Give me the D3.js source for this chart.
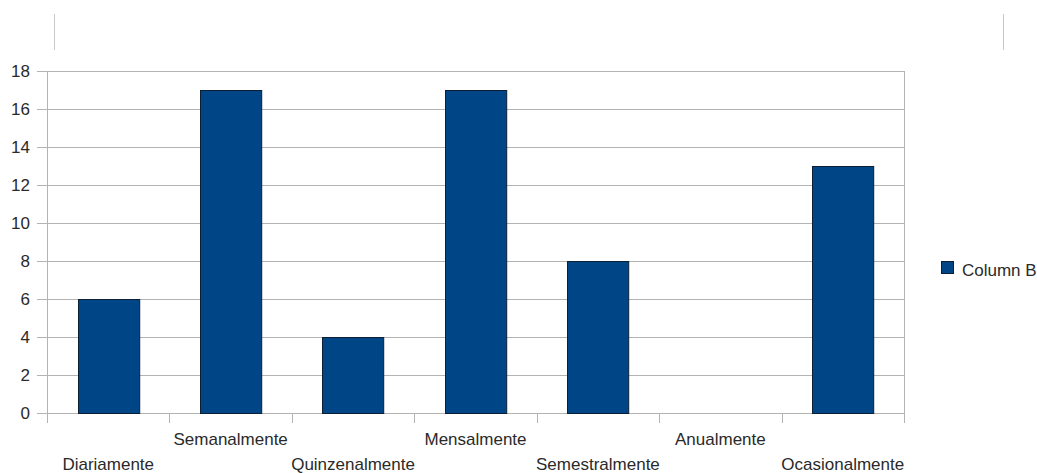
<!DOCTYPE html>
<html>
<head>
<meta charset="utf-8">
<script src="https://cdn.jsdelivr.net/npm/d3@7"></script>
<style>
  html, body { margin: 0; padding: 0; background: #fff; }
  svg { display: block; font-family: "Liberation Sans", Arial, sans-serif; }
</style>
</head>
<body>
<svg id="chart" width="1037" height="473"></svg>
<script>
// Frequency categories and counts
const categories = ["Diariamente", "Semanalmente", "Quinzenalmente", "Mensalmente",
                    "Semestralmente", "Anualmente", "Ocasionalmente"];
const columnB = [6, 17, 4, 17, 8, 0, 13];
const yTicks = [0, 2, 4, 6, 8, 10, 12, 14, 16, 18];
const seriesName = "Column B";

const svg = d3.select("#chart");
const plotLeft = 47, plotRight = 904, plotTop = 71, plotBottom = 413;

const x = d3.scaleBand().domain(categories).range([plotLeft, plotRight]).paddingInner(0.5).paddingOuter(0.25);
const xb = d3.scaleBand().domain(categories).range([plotLeft, plotRight]);
const y = d3.scaleLinear().domain([0, 18]).range([plotBottom, plotTop]);

const gridColor = "#b3b3b3";
const textColor = "#2a2a2a";
const fontSize = 17;

// decorative frame marks above plot
svg.append("line").attr("x1", 54.5).attr("x2", 54.5).attr("y1", 14).attr("y2", 50)
  .attr("stroke", "#c8c8c8").attr("stroke-width", 1);
svg.append("line").attr("x1", 1003.5).attr("x2", 1003.5).attr("y1", 14).attr("y2", 50)
  .attr("stroke", "#c8c8c8").attr("stroke-width", 1);

// horizontal gridlines with tick stubs
svg.append("g").selectAll("line").data(yTicks).join("line")
  .attr("x1", plotLeft - 10).attr("x2", plotRight)
  .attr("y1", d => Math.round(y(d)) + 0.5).attr("y2", d => Math.round(y(d)) + 0.5)
  .attr("stroke", gridColor).attr("stroke-width", 1);

// y labels
svg.append("g").selectAll("text").data(yTicks).join("text")
  .attr("x", 30).attr("y", d => y(d)).attr("dy", "0.36em")
  .attr("text-anchor", "end").attr("font-size", fontSize).attr("fill", textColor)
  .text(d => d);

// vertical frame lines and category ticks
const boundaries = categories.map(c => xb(c)).concat([plotRight]);
svg.append("g").selectAll("line").data(boundaries).join("line")
  .attr("x1", d => Math.round(d) + 0.5).attr("x2", d => Math.round(d) + 0.5)
  .attr("y1", (d, i) => (i === 0 || i === boundaries.length - 1) ? plotTop : plotBottom)
  .attr("y2", plotBottom + 10)
  .attr("stroke", gridColor).attr("stroke-width", 1);

// bars
svg.append("g").selectAll("rect").data(categories.map((c, i) => ({ c, v: columnB[i] })).filter(d => d.v > 0))
  .join("rect")
  .attr("x", d => Math.round(x(d.c)) + 0.5)
  .attr("y", d => Math.round(y(d.v)) + 0.5)
  .attr("width", x.bandwidth())
  .attr("height", d => Math.round(y(0)) - Math.round(y(d.v)))
  .attr("fill", "#004586").attr("stroke", "#0d1f33").attr("stroke-width", 1);

// category labels, staggered over two rows
svg.append("g").selectAll("text").data(categories).join("text")
  .attr("x", d => xb(d) + xb.bandwidth() / 2)
  .attr("y", (d, i) => i % 2 === 0 ? 470 : 445)
  .attr("text-anchor", "middle").attr("font-size", fontSize).attr("fill", textColor)
  .text(d => d);

// legend
const lg = svg.append("g").attr("transform", "translate(941,261)");
lg.append("rect").attr("x", 0.5).attr("y", 0.5).attr("width", 12).attr("height", 12)
  .attr("fill", "#004586").attr("stroke", "#0d1f33");
lg.append("text").attr("x", 21).attr("y", 15)
  .attr("font-size", fontSize).attr("fill", textColor).text(seriesName);
</script>
</body>
</html>
